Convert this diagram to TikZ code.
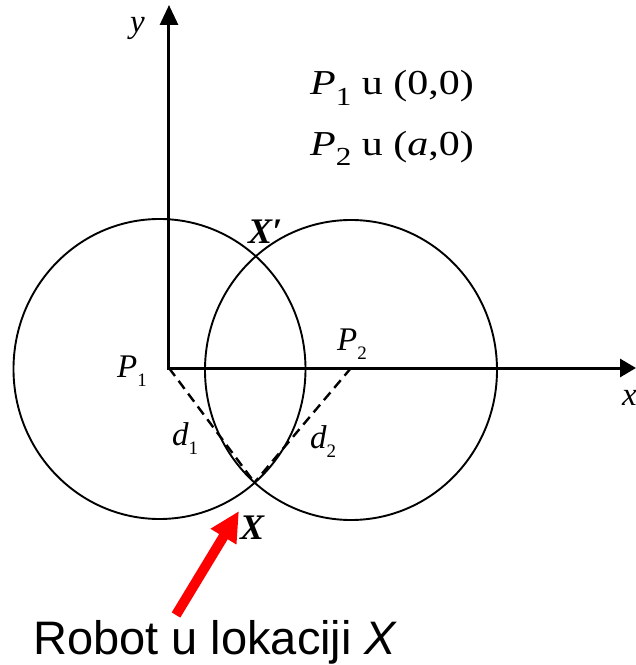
\documentclass[tikz,border=0pt]{standalone}
\usepackage{fontspec}
\setmainfont{Liberation Serif}
\newfontfamily\arialfont{Liberation Sans}
\usetikzlibrary{arrows.meta,positioning}
\newcommand{\lowidx}[2][20]{\raisebox{-0.3em}{\fontsize{#1}{#1}\selectfont\upshape #2}}

\begin{document}
\begin{tikzpicture}[x=1pt, y=1pt,
  axis/.style={line width=3pt, {Triangle[length=20pt,width=18pt]}-{Triangle[length=16pt,width=18pt]}},
  ring/.style={line width=1.9pt},
  dist/.style={line width=2.4pt, dash pattern=on 10pt off 6pt},
  lbl/.style={inner sep=0pt, anchor=base west, font=\fontsize{33}{36}\selectfont\itshape},
  pointlbl/.style={lbl, font=\fontsize{36}{40}\selectfont\bfseries\itshape},
  poslbl/.style={lbl, font=\fontsize{35}{40}\selectfont\itshape, xscale=1.2}]
  \useasboundingbox (-169,-297) rectangle (467,368);

  \coordinate (P1) at (0,0);
  \coordinate (P2) at (182,0);
  \coordinate (X) at (85.5,-114.5);
  \coordinate (ytip) at (0,363);
  \coordinate (xtip) at (467,0);
  \coordinate (tail) at (7,-247);
  \coordinate (aim) at (70,-143);

  % kruznice oko P1 i P2
  \draw[ring] (-9.5,-1) ellipse [x radius=146, y radius=150];
  \draw[ring] (182,-2) ellipse [x radius=146, y radius=150];

  \draw[axis] (ytip) -- (P1) -- (xtip);
  \draw[dist] (P1) -- (X);
  \draw[dist] (P2) -- (X);
  \draw[red, line width=10pt, -{Triangle[length=30pt,width=28pt]}] (tail) -- (aim);

  \node[lbl] (ylab) at (-39,335) {y};
  \node[lbl] (xlab) at (453,-37) {x};
  \node[lbl] (p1lab) at (-52,-9) {P\lowidx[19]{1}};
  \node[lbl] (p2lab) at (168,18) {P\lowidx[19]{2}};
  \node[lbl] (d1lab) at (3,-77) {d\lowidx[19]{1}};
  \node[lbl] (d2lab) at (141,-80) {d\lowidx[19]{2}};
  \node[pointlbl] (xplab) at (79,125) {X′};
  \node[pointlbl] (xlab2) at (71,-171) {X};
  \node[poslbl] (pos1) at (141,273) {P\lowidx[26]{1}\upshape\ u (0,0)};
  \node[poslbl] (pos2) at (141,213) {P\lowidx[26]{2}\upshape\ u (\textit{a},0)};
  \node[inner sep=0pt, anchor=base west, font=\fontsize{47}{50}\selectfont\arialfont] (robot) at (-136,-286) {Robot u lokaciji \textit{X}};
\end{tikzpicture}
\end{document}
